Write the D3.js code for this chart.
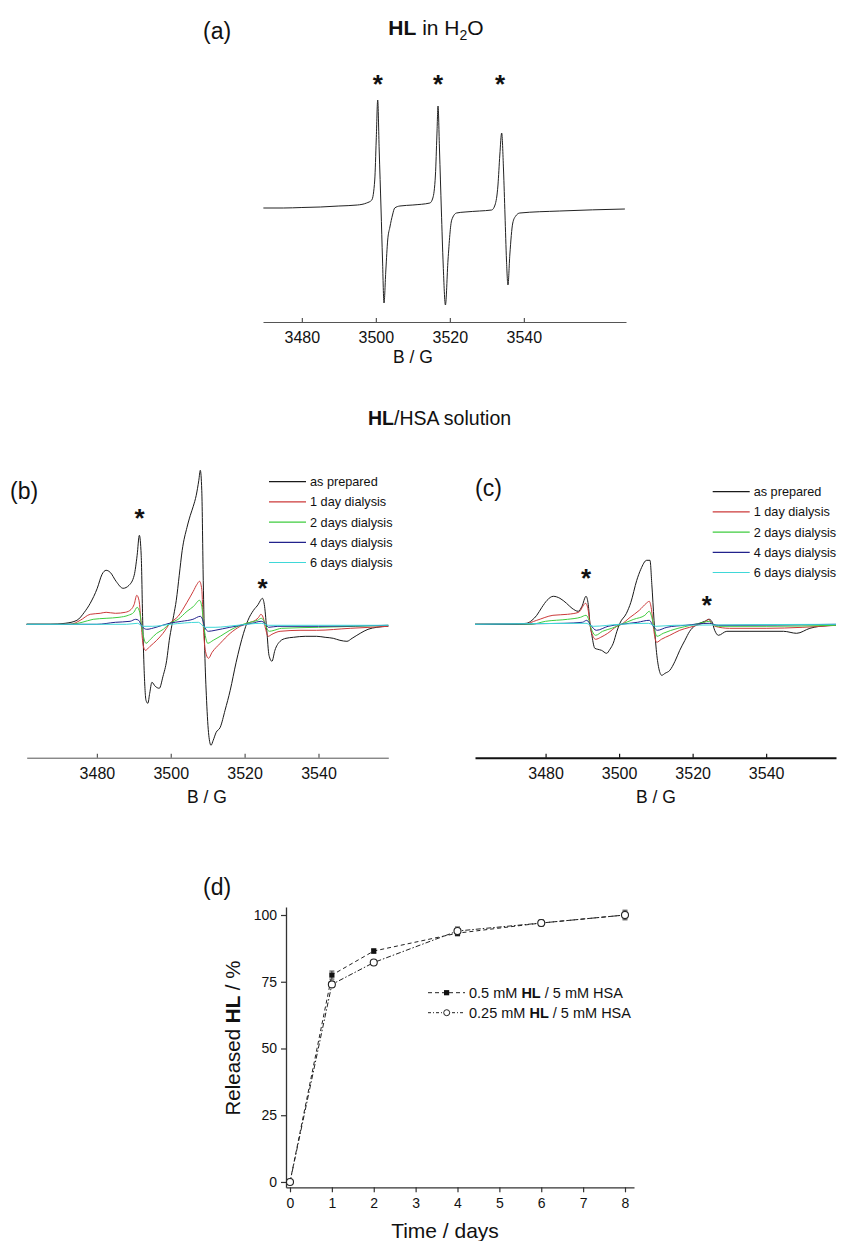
<!DOCTYPE html>
<html><head><meta charset="utf-8">
<script src="https://cdn.jsdelivr.net/npm/d3@7"></script>
<style>
body{margin:0;background:#fff}
svg{display:block}
text{font-family:"Liberation Sans",Arial,sans-serif}
</style>
</head><body>
<svg id="fig" width="847" height="1241"></svg>
<script>
// ---------------- DATA ----------------
const fieldTicks = [3480, 3500, 3520, 3540];
const seriesLabels = ["as prepared", "1 day dialysis", "2 days dialysis", "4 days dialysis", "6 days dialysis"];
const seriesColors = ["#1a1a1a", "#cc3a3a", "#3fcc3f", "#22228c", "#3fd8d8"];

// (a) HL in H2O : [B / G, signal a.u.]
const specA = [[3469.6,0.01],[3475,0.01],[3480,0.015],[3485,0.02],[3490,0.03],[3495,0.04],[3497.5,0.06],[3498.9,0.09],[3499.7,0.29],[3500.1,0.69],[3500.5,1.09],[3500.9,0.59],[3501.4,0.0],[3501.8,-0.51],[3502.2,-0.94],[3502.7,-0.61],[3503.2,-0.31],[3503.8,-0.18],[3504.5,-0.06],[3505.1,0.01],[3506.5,0.03],[3510,0.04],[3514.6,0.06],[3515.4,0.11],[3516.1,0.34],[3516.5,0.74],[3516.8,1.03],[3517.2,0.59],[3517.7,-0.01],[3518.2,-0.56],[3518.8,-0.96],[3519.5,-0.51],[3520.5,-0.11],[3521.8,-0.04],[3524.1,-0.03],[3528,-0.02],[3531.3,-0.01],[3532.2,0.04],[3533,0.24],[3533.5,0.54],[3534,0.76],[3534.5,0.39],[3534.9,-0.06],[3535.3,-0.51],[3535.7,-0.76],[3536.2,-0.46],[3537,-0.14],[3537.8,-0.07],[3538.9,-0.04],[3549.7,-0.02],[3567.3,0.0]];

// (b) HL/HSA 0.5 mM
const bAsPrepared = [[3461,0],[3467.4,0],[3471.4,0.01],[3474.6,0.04],[3476.6,0.12],[3478.2,0.21],[3480.1,0.36],[3481.4,0.5],[3482.5,0.54],[3483.6,0.52],[3485.2,0.43],[3487.1,0.36],[3488.7,0.39],[3490.1,0.49],[3490.9,0.69],[3491.5,0.89],[3492.0,0.69],[3492.4,0.04],[3492.8,-0.46],[3493.3,-0.76],[3493.8,-0.79],[3494.3,-0.69],[3494.9,-0.58],[3495.8,-0.62],[3496.9,-0.64],[3497.9,-0.52],[3498.9,-0.36],[3499.6,-0.16],[3500.3,-0.01],[3500.8,0.09],[3501.5,0.24],[3502.3,0.49],[3503.1,0.74],[3504.4,0.97],[3505.3,1.09],[3506.1,1.18],[3506.9,1.29],[3507.6,1.44],[3508.0,1.54],[3508.4,1.34],[3508.8,0.44],[3509.2,-0.26],[3509.7,-0.76],[3510.3,-1.11],[3510.9,-1.21],[3511.5,-1.16],[3512.3,-1.08],[3513.4,-1.03],[3514.7,-0.86],[3516.1,-0.66],[3517.7,-0.38],[3519.7,-0.09],[3520.9,0.04],[3522.4,0.14],[3523.7,0.2],[3524.3,0.24],[3524.8,0.26],[3525.4,0.18],[3526.0,-0.06],[3526.6,-0.31],[3527.4,-0.37],[3528.2,-0.26],[3529.6,-0.17],[3531.2,-0.14],[3533.2,-0.13],[3536.4,-0.12],[3539.5,-0.12],[3541.8,-0.13],[3544.0,-0.14],[3545.8,-0.16],[3547.7,-0.17],[3549.1,-0.14],[3551.3,-0.09],[3553.4,-0.05],[3555.8,-0.03],[3558.9,-0.02]];
const bDay1 = [[3461,0],[3472.8,0],[3475.5,0.04],[3478.2,0.1],[3480.9,0.11],[3482.5,0.12],[3485.0,0.11],[3487.7,0.12],[3489.3,0.15],[3490.1,0.2],[3490.8,0.29],[3491.4,0.24],[3492.0,0.0],[3492.5,-0.2],[3493.1,-0.26],[3494.4,-0.22],[3496.2,-0.16],[3497.9,-0.09],[3499.8,0.01],[3502.0,0.08],[3504.4,0.22],[3506.1,0.33],[3507.1,0.4],[3507.8,0.43],[3508.4,0.35],[3508.8,0.0],[3509.3,-0.25],[3510.2,-0.34],[3511.2,-0.28],[3513.4,-0.19],[3516.1,-0.09],[3518.8,-0.02],[3521.5,0.02],[3522.9,0.04],[3523.8,0.07],[3524.4,0.1],[3525.0,0.07],[3525.7,-0.05],[3526.4,-0.12],[3527.4,-0.1],[3529.6,-0.07],[3535.0,-0.06],[3539.5,-0.06],[3548.6,-0.04],[3554.0,-0.03],[3558.9,-0.02]];
const bDay2 = [[3461,0],[3472.8,0],[3476,0.02],[3479,0.05],[3482.5,0.06],[3486,0.07],[3488.5,0.09],[3490,0.12],[3490.9,0.17],[3491.6,0.12],[3492.1,-0.02],[3492.6,-0.12],[3493.3,-0.19],[3494.5,-0.15],[3496.2,-0.09],[3498,-0.05],[3499.8,0.01],[3502,0.05],[3504.4,0.13],[3506.2,0.18],[3507.8,0.24],[3508.4,0.18],[3508.9,0.0],[3509.5,-0.14],[3510.0,-0.19],[3511.5,-0.16],[3513.4,-0.12],[3516,-0.06],[3518.8,-0.01],[3521.5,0.02],[3523.5,0.04],[3524.5,0.06],[3525.3,0.03],[3526.0,-0.04],[3526.7,-0.07],[3528,-0.06],[3530,-0.04],[3540,-0.03],[3550,-0.02],[3558.9,-0.01]];
const bDay4 = [[3461,0],[3480,0],[3485,0.02],[3489,0.03],[3490.5,0.05],[3491.3,0.04],[3492.2,-0.02],[3493.5,-0.05],[3496,-0.03],[3499.6,0.01],[3503,0.03],[3506,0.05],[3508,0.08],[3508.6,0.05],[3509.2,-0.03],[3510.2,-0.07],[3512,-0.06],[3516,-0.03],[3519,-0.01],[3522,0.01],[3524.5,0.03],[3525.5,0.01],[3526.5,-0.03],[3529,-0.02],[3540,-0.02],[3558.9,-0.01]];
const bDay6 = [[3461,0],[3488,0],[3491,0.01],[3492.5,-0.02],[3495,-0.02],[3500,0],[3507.5,0.02],[3509.3,-0.03],[3512,-0.03],[3518,-0.01],[3524.5,0.01],[3526.5,-0.01],[3540,-0.01],[3558.9,-0.01]];

// (c) HL/HSA 0.25 mM
const cAsPrepared = [[3460.8,0],[3470.3,0],[3474.8,0.01],[3476.3,0.04],[3477.6,0.09],[3479.0,0.17],[3480.4,0.24],[3482.1,0.28],[3483.9,0.26],[3485.7,0.21],[3487.2,0.16],[3488.9,0.13],[3489.9,0.18],[3491.0,0.28],[3491.6,0.2],[3492.1,0],[3492.5,-0.09],[3493.4,-0.24],[3494.2,-0.25],[3495.2,-0.26],[3496.6,-0.29],[3497.5,-0.25],[3498.4,-0.19],[3499.4,-0.07],[3500.2,0.01],[3502.0,0.11],[3503.2,0.22],[3504.8,0.44],[3505.9,0.55],[3507.5,0.64],[3508.4,0.64],[3508.9,0.4],[3509.5,0.04],[3510.1,-0.25],[3510.8,-0.44],[3511.6,-0.51],[3512.5,-0.49],[3513.8,-0.46],[3515.2,-0.37],[3516.5,-0.26],[3517.9,-0.16],[3519.2,-0.07],[3521.9,0.01],[3523.3,0.03],[3524.5,0.05],[3525.2,0.03],[3526.0,-0.06],[3527.0,-0.11],[3529.3,-0.07],[3535.6,-0.07],[3544.7,-0.07],[3548.3,-0.09],[3551.9,-0.04],[3554.6,-0.02],[3559.0,-0.01]];
const cDay1 = [[3460.8,0],[3474,0],[3477.6,0.04],[3482,0.09],[3486,0.1],[3489,0.12],[3490.9,0.21],[3491.6,0.14],[3492.2,-0.03],[3492.9,-0.12],[3493.6,-0.15],[3495,-0.13],[3496.9,-0.09],[3499.4,-0.02],[3500.6,0],[3503,0.07],[3505.5,0.14],[3507.4,0.21],[3508.2,0.23],[3508.8,0.15],[3509.4,-0.05],[3510.2,-0.18],[3511.5,-0.15],[3513.8,-0.11],[3516.5,-0.06],[3519.2,-0.03],[3522,0],[3523.6,0.03],[3524.3,0.05],[3525.2,0.01],[3526.1,-0.02],[3530,-0.04],[3540,-0.04],[3550,-0.03],[3559,-0.01]];
const cDay2 = [[3460.8,0],[3476,0],[3480,0.03],[3486,0.05],[3489.5,0.07],[3491.0,0.09],[3491.6,0.06],[3492.3,-0.03],[3493.6,-0.11],[3495.5,-0.07],[3498,-0.04],[3500.6,0],[3504,0.05],[3507,0.09],[3508.2,0.13],[3508.9,0.07],[3509.6,-0.05],[3510.3,-0.12],[3512,-0.09],[3516,-0.04],[3519.5,-0.01],[3523,0.02],[3524.5,0.03],[3525.5,0],[3527,-0.02],[3540,-0.02],[3559,-0.01]];
const cDay4 = [[3460.8,0],[3485,0.01],[3490,0.02],[3491.2,0.04],[3492.3,-0.01],[3493.8,-0.06],[3497,-0.02],[3500.6,0],[3505,0.02],[3508.2,0.04],[3509.3,-0.02],[3510.4,-0.06],[3513,-0.03],[3518,-0.01],[3524.5,0.01],[3527,-0.01],[3559,0]];
const cDay6 = [[3460.8,0],[3491,0.01],[3493,-0.02],[3500,0],[3508,0.01],[3510,-0.02],[3515,-0.01],[3559,0]];

// (d) release
const days = [0, 1, 2, 4, 6, 8];
const released05 = [0, 77.5, 86.5, 93.2, 97, 100];
const err05 = [0, 1.5, 0.8, 1.0, 0.8, 1.2];
const released025 = [0, 74, 82.2, 94, 97, 100];
const err025 = [0, 1.0, 0.8, 1.5, 1.2, 1.8];
const dayTicks = [0, 1, 2, 3, 4, 5, 6, 7, 8];
const pctTicks = [0, 25, 50, 75, 100];

// ---------------- DRAWING ----------------
const svg = d3.select("#fig");
const FF = '"Liberation Sans", Arial, sans-serif';

function label(x, y, txt, size, anchor) {
  return svg.append("text").attr("x", x).attr("y", y).attr("font-size", size)
    .attr("text-anchor", anchor || "start").attr("fill", "#111").text(txt);
}
function asterisk(x, yc) {
  svg.append("text").attr("x", x).attr("y", yc + 15).attr("font-size", 26)
    .attr("font-weight", "bold").attr("text-anchor", "middle").attr("fill", "#111").text("*");
}
function fieldAxis(x, yPos, color, width) {
  const ax = d3.axisBottom(x).tickValues(fieldTicks).tickFormat(d3.format("d"))
    .tickSizeInner(-4).tickSizeOuter(0).tickPadding(10);
  const g = svg.append("g").attr("transform", `translate(0,${yPos})`).call(ax);
  g.select(".domain").attr("stroke", color).attr("stroke-width", width);
  g.selectAll(".tick line").attr("stroke", color).attr("stroke-width", 1.2);
  g.selectAll(".tick text").attr("font-size", 16).attr("fill", "#111").style("font-family", FF);
}
function spectrum(x, y, data, color, w) {
  const line = d3.line().x(d => x(d[0])).y(d => y(d[1])).curve(d3.curveMonotoneX);
  svg.append("path").datum(data).attr("d", line).attr("fill", "none")
    .attr("stroke", color).attr("stroke-width", w || 1).attr("stroke-linejoin", "round");
}

// ---- panel (a)
const xA = d3.scaleLinear().domain([3469.5, 3567.6]).range([263, 626]);
const yA = d3.scaleLinear().domain([-1.13, 1.2]).range([322, 89]);
label(203, 38.5, "(a)", 23);
const tA = svg.append("text").attr("x", 436).attr("y", 34.5).attr("font-size", 21)
  .attr("text-anchor", "middle").attr("fill", "#111");
tA.append("tspan").attr("font-weight", "bold").text("HL");
tA.append("tspan").text(" in H");
tA.append("tspan").attr("font-size", 14).attr("dy", 5).text("2");
tA.append("tspan").attr("dy", -5).text("O");
[377.7, 438, 500].forEach(px => asterisk(px, 78.3));
spectrum(xA, yA, specA, "#222", 1);
fieldAxis(xA, 322, "#555", 1);
label(413, 363, "B / G", 17.5, "middle");

// ---- title for b/c
const tBC = svg.append("text").attr("x", 368).attr("y", 425).attr("font-size", 19.5).attr("fill", "#111");
tBC.append("tspan").attr("font-weight", "bold").text("HL");
tBC.append("tspan").text("/HSA solution");

const yBC = d3.scaleLinear().domain([-1.334, 1.643]).range([757.7, 460]);

function specPanel(x, sets, tag, tagX, tagY, legX, legY0, stars, axColor, axW, bgX) {
  label(tagX, tagY, tag, 23);
  sets.forEach((s, i) => spectrum(x, yBC, s, seriesColors[i], 1));
  stars.forEach(s => asterisk(s[0], s[1]));
  seriesLabels.forEach((lab, i) => {
    const yy = legY0 + i * 20.2;
    svg.append("line").attr("x1", legX).attr("x2", legX + 37).attr("y1", yy).attr("y2", yy)
      .attr("stroke", seriesColors[i]).attr("stroke-width", 1.2);
    label(legX + 41, yy + 4.5, lab, 12.7);
  });
  fieldAxis(x, 757.7, axColor, axW);
  label(bgX, 803, "B / G", 17.5, "middle");
}

const xB = d3.scaleLinear().domain([3461, 3558.9]).range([26.7, 388.3]);
specPanel(xB, [bAsPrepared, bDay1, bDay2, bDay4, bDay6], "(b)", 10, 498.5,
  269, 481.7, [[139.5, 511.7], [262.5, 581.7]], "#555", 1, 207);

const xC = d3.scaleLinear().domain([3460.8, 3559]).range([475, 836]);
specPanel(xC, [cAsPrepared, cDay1, cDay2, cDay4, cDay6], "(c)", 475, 495.5,
  712.7, 491.7, [[586, 571.7], [706.7, 599.3]], "#111", 2, 656);

// ---- panel (d)
const xD = d3.scaleLinear().domain([-0.0955, 8.215]).range([286, 634]);
const yD = d3.scaleLinear().domain([-2, 103]).range([1187.3, 907]);
label(203, 895, "(d)", 23);

const gx = svg.append("g").attr("transform", "translate(0,1187.3)")
  .call(d3.axisBottom(xD).tickValues(dayTicks).tickFormat(d3.format("d")).tickSize(5).tickSizeOuter(0).tickPadding(6));
const gy = svg.append("g").attr("transform", "translate(286,0)")
  .call(d3.axisLeft(yD).tickValues(pctTicks).tickSize(5).tickSizeOuter(0).tickPadding(4));
[gx, gy].forEach(g => {
  g.select(".domain").attr("stroke", "#333").attr("stroke-width", 1.3);
  g.selectAll(".tick line").attr("stroke", "#333").attr("stroke-width", 1.2);
  g.selectAll(".tick text").attr("font-size", 14).attr("fill", "#111").style("font-family", FF);
});

const ttl = svg.append("text").attr("transform", "translate(240,1038) rotate(-90)")
  .attr("font-size", 20.5).attr("text-anchor", "middle").attr("fill", "#111");
ttl.append("tspan").text("Released ");
ttl.append("tspan").attr("font-weight", "bold").text("HL");
ttl.append("tspan").text(" / %");
label(445, 1237.5, "Time / days", 21, "middle");

const rel1 = days.map((d, i) => ({ d, v: released05[i], e: err05[i] }));
const rel2 = days.map((d, i) => ({ d, v: released025[i], e: err025[i] }));
const lineD = d3.line().x(p => xD(p.d)).y(p => yD(p.v));
svg.append("path").datum(rel1).attr("d", lineD).attr("fill", "none")
  .attr("stroke", "#222").attr("stroke-width", 1).attr("stroke-dasharray", "4,3");
svg.append("path").datum(rel2).attr("d", lineD).attr("fill", "none")
  .attr("stroke", "#222").attr("stroke-width", 1).attr("stroke-dasharray", "5,2,1.5,2");

function errBars(data) {
  data.filter(p => p.e > 0).forEach(p => {
    const x0 = xD(p.d);
    const g = svg.append("g").attr("stroke", "#333").attr("stroke-width", 1);
    g.append("line").attr("x1", x0).attr("x2", x0).attr("y1", yD(p.v - p.e)).attr("y2", yD(p.v + p.e));
    [p.v - p.e, p.v + p.e].forEach(v => g.append("line").attr("x1", x0 - 2.5).attr("x2", x0 + 2.5).attr("y1", yD(v)).attr("y2", yD(v)));
  });
}
errBars(rel1); errBars(rel2);
svg.selectAll(".sq").data(rel1).enter().append("rect")
  .attr("x", p => xD(p.d) - 2.6).attr("y", p => yD(p.v) - 2.6).attr("width", 5.2).attr("height", 5.2).attr("fill", "#111");
svg.selectAll(".ci").data(rel2).enter().append("circle")
  .attr("cx", p => xD(p.d)).attr("cy", p => yD(p.v)).attr("r", 3.5).attr("fill", "#fff").attr("stroke", "#222").attr("stroke-width", 1.1);

// legend (d)
const legD = [
  { y: 992.7, dash: "4,3", mark: "sq", conc: "0.5 mM " },
  { y: 1012.7, dash: "3,2,1,2", mark: "ci", conc: "0.25 mM " }
];
legD.forEach(r => {
  svg.append("line").attr("x1", 428).attr("x2", 465).attr("y1", r.y).attr("y2", r.y)
    .attr("stroke", "#222").attr("stroke-width", 1).attr("stroke-dasharray", r.dash);
  if (r.mark === "sq") svg.append("rect").attr("x", 444).attr("y", r.y - 2.6).attr("width", 5.2).attr("height", 5.2).attr("fill", "#111");
  else svg.append("circle").attr("cx", 446.7).attr("cy", r.y).attr("r", 3).attr("fill", "#fff").attr("stroke", "#222");
  const t = svg.append("text").attr("x", 469).attr("y", r.y + 5).attr("font-size", 14.5).attr("fill", "#111");
  t.append("tspan").text(r.conc);
  t.append("tspan").attr("font-weight", "bold").text("HL");
  t.append("tspan").text(" / 5 mM HSA");
});
</script>
</body></html>
